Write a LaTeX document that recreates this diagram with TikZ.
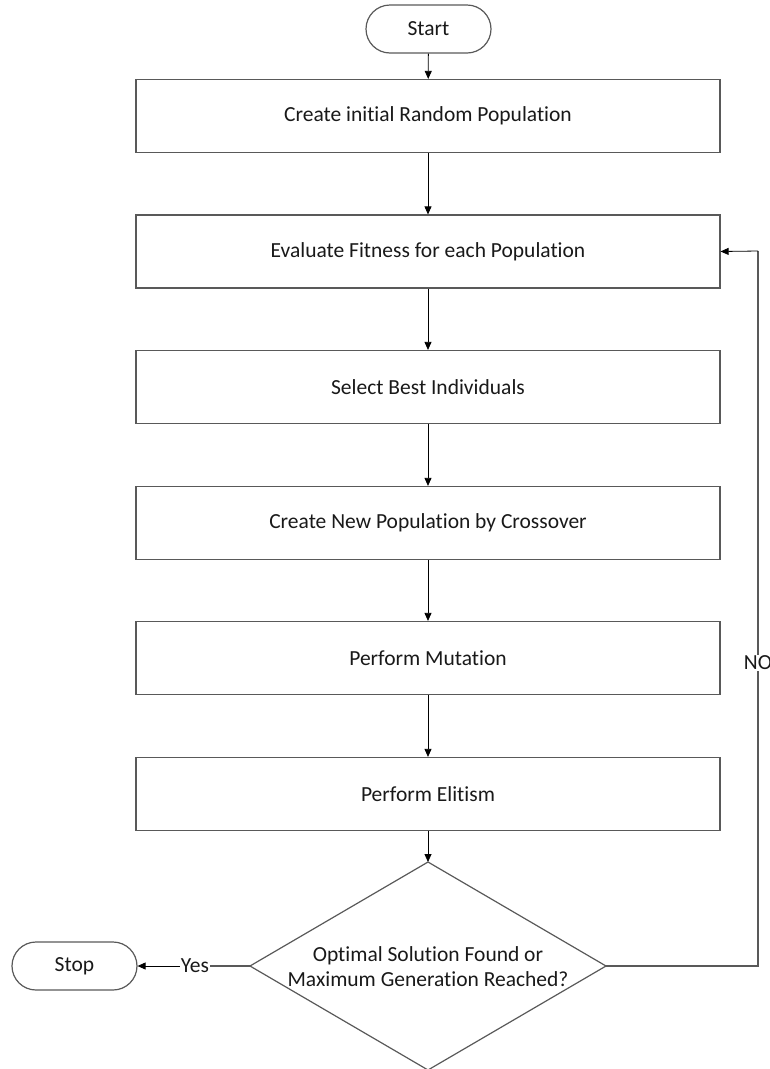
\documentclass[tikz,border=0pt]{standalone}
\usepackage{fontspec}
\setmainfont{Carlito}[Ligatures=NoCommon]
\usetikzlibrary{arrows.meta}
\begin{document}
\begin{tikzpicture}[x=1pt,y=-1pt,
  font=\fontsize{21.5}{25}\selectfont,
  every node/.style={text=black!90},
  edgeline/.style={draw=black!65,line width=1.2pt},
  procbox/.style={edgeline,rectangle,minimum width=584pt,minimum height=73pt,inner sep=0pt},
  term/.style={edgeline,rectangle,rounded corners=24pt,minimum width=125pt,minimum height=48pt,inner sep=0pt},
  flow/.style={draw=black,line width=0.8pt,-{Triangle[length=8pt,width=7pt]}},
  lbl/.style={fill=white,inner sep=1pt}]
\useasboundingbox (0,0) rectangle (770,1069);
\node[term] (start) at (428.5,29) {Start};
\node[procbox] (b1) at (428,116) {Create initial Random Population};
\node[procbox] (b2) at (428,251.5) {Evaluate Fitness for each Population};
\node[procbox] (b3) at (428,387) {Select Best Individuals};
\node[procbox] (b4) at (428,523) {Create New Population by Crossover};
\node[procbox] (b5) at (428,658) {Perform Mutation};
\node[procbox] (b6) at (428,794) {Perform Elitism};
% decision diamond: corners as named coordinates, text as a plain node
\coordinate (dtop) at (428,862);
\coordinate (dright) at (606,966);
\coordinate (dbottom) at (428,1070);
\coordinate (dleft) at (250,966);
\draw[edgeline] (dtop) -- (dright) -- (dbottom) -- (dleft) -- cycle;
\node[align=center,inner sep=0pt] (dec) at (428,967) {Optimal Solution Found or\\Maximum Generation Reached?};
\node[term] (stop) at (74.5,966) {Stop};
\coordinate (c1) at (758,966);
\coordinate (c2) at (758,251);
\coordinate (yespos) at (195,966);
\draw[flow] (start) -- (b1);
\draw[flow] (b1) -- (b2);
\draw[flow] (b2) -- (b3);
\draw[flow] (b3) -- (b4);
\draw[flow] (b4) -- (b5);
\draw[flow] (b5) -- (b6);
\draw[flow] (b6) -- (dtop);
\draw[edgeline] (dright) -- (c1) -- (c2);
\draw[flow] (c2) -- (b2.east);
\draw[edgeline] (dleft) -- (yespos);
\draw[flow] (yespos) -- (stop.east);
\node[lbl] (yes) at (yespos) {Yes};
\node[lbl] (no) at (758,663) {NO};
\end{tikzpicture}
\end{document}
